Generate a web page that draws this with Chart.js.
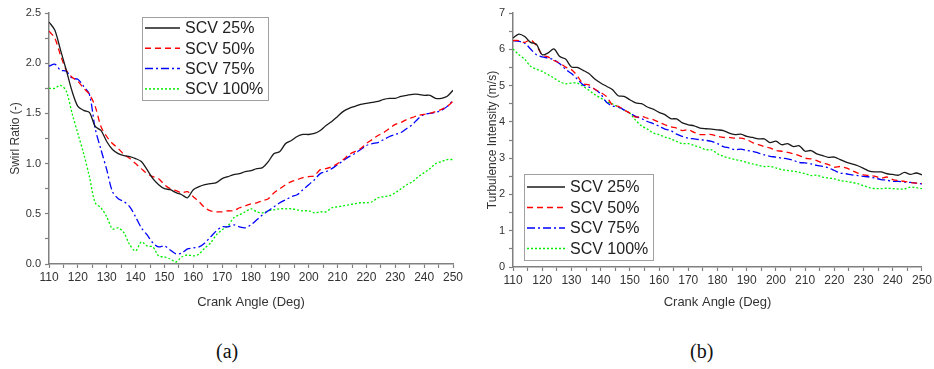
<!DOCTYPE html>
<html>
<head>
<meta charset="utf-8">
<script src="https://cdn.jsdelivr.net/npm/chart.js@4/dist/chart.umd.min.js"></script>
<style>
  body { margin: 0; background: #fff; }
  #wrap { position: relative; width: 934px; height: 369px; }
  #swirl { position: absolute; left: 0; top: 0; }
  #turb { position: absolute; left: 467px; top: 0; }
  .cap { position: absolute; top: 340px; font-family: "Liberation Serif", "Times New Roman", serif; font-size: 20px; color: #111; }
</style>
</head>
<body>
<div id="wrap">
  <canvas id="swirl" width="467" height="320"></canvas>
  <canvas id="turb" width="467" height="320"></canvas>
  <div class="cap" style="left:216px;">(a)</div>
  <div class="cap" style="left:690px;">(b)</div>
</div>
<script>
// crank angle (deg), one sample every 2 degrees
const crankAngles = [110, 112, 114, 116, 118, 120, 122, 124, 126, 128,
  130, 132, 134, 136, 138, 140, 142, 144, 146, 148,
  150, 152, 154, 156, 158, 160, 162, 164, 166, 168,
  170, 172, 174, 176, 178, 180, 182, 184, 186, 188,
  190, 192, 194, 196, 198, 200, 202, 204, 206, 208,
  210, 212, 214, 216, 218, 220, 222, 224, 226, 228,
  230, 232, 234, 236, 238, 240, 242, 244, 246, 248, 250];

const seriesNames = ['SCV 25%', 'SCV 50%', 'SCV 75%', 'SCV 100%'];

// (a) swirl ratio
const swirl25 = [2.41, 2.33, 2.13, 1.93, 1.72, 1.57, 1.53, 1.51, 1.37, 1.33,
  1.22, 1.14, 1.10, 1.08, 1.07, 1.05, 1.02, 0.94, 0.85, 0.79,
  0.75, 0.74, 0.71, 0.69, 0.66, 0.74, 0.77, 0.79, 0.80, 0.81,
  0.85, 0.87, 0.89, 0.90, 0.92, 0.93, 0.95, 0.96, 1.02, 1.10,
  1.12, 1.20, 1.23, 1.27, 1.29, 1.29, 1.30, 1.33, 1.38, 1.42,
  1.47, 1.52, 1.55, 1.57, 1.59, 1.60, 1.61, 1.62, 1.64, 1.65,
  1.65, 1.67, 1.68, 1.69, 1.69, 1.68, 1.68, 1.65, 1.65, 1.67, 1.73];
const swirl50 = [2.32, 2.25, 2.08, 1.93, 1.86, 1.82, 1.75, 1.69, 1.57, 1.37,
  1.27, 1.20, 1.15, 1.09, 1.05, 1.00, 0.95, 0.90, 0.87, 0.85,
  0.79, 0.75, 0.73, 0.71, 0.72, 0.67, 0.62, 0.56, 0.53, 0.52,
  0.52, 0.53, 0.53, 0.56, 0.58, 0.60, 0.61, 0.63, 0.65, 0.71,
  0.75, 0.79, 0.82, 0.84, 0.86, 0.87, 0.88, 0.94, 0.95, 0.97,
  1.00, 1.04, 1.09, 1.12, 1.15, 1.20, 1.24, 1.28, 1.31, 1.35,
  1.39, 1.41, 1.44, 1.46, 1.48, 1.49, 1.50, 1.52, 1.54, 1.57, 1.62];
const swirl75 = [1.97, 1.99, 1.93, 1.92, 1.85, 1.84, 1.77, 1.69, 1.35, 1.14,
  0.94, 0.72, 0.65, 0.62, 0.57, 0.47, 0.36, 0.29, 0.21, 0.17,
  0.18, 0.14, 0.10, 0.11, 0.15, 0.16, 0.17, 0.21, 0.27, 0.33,
  0.37, 0.37, 0.39, 0.37, 0.36, 0.39, 0.44, 0.49, 0.53, 0.57,
  0.61, 0.64, 0.67, 0.69, 0.74, 0.79, 0.84, 0.90, 0.92, 0.95,
  0.99, 1.03, 1.07, 1.10, 1.14, 1.18, 1.20, 1.21, 1.24, 1.27,
  1.29, 1.31, 1.35, 1.39, 1.45, 1.49, 1.50, 1.51, 1.53, 1.57, 1.63];
const swirl100 = [1.75, 1.75, 1.78, 1.72, 1.50, 1.30, 1.10, 0.87, 0.61, 0.56,
  0.47, 0.35, 0.36, 0.31, 0.19, 0.13, 0.22, 0.18, 0.17, 0.08,
  0.07, 0.05, 0.02, 0.07, 0.09, 0.08, 0.10, 0.16, 0.21, 0.29,
  0.34, 0.38, 0.46, 0.49, 0.52, 0.55, 0.52, 0.51, 0.53, 0.54,
  0.55, 0.55, 0.55, 0.54, 0.53, 0.53, 0.51, 0.52, 0.52, 0.56,
  0.57, 0.58, 0.59, 0.60, 0.61, 0.61, 0.62, 0.66, 0.67, 0.68,
  0.71, 0.75, 0.79, 0.82, 0.87, 0.91, 0.95, 1.00, 1.02, 1.04, 1.04];

// (b) turbulence intensity, m/s
const turb25 = [6.31, 6.42, 6.35, 6.19, 6.14, 5.85, 5.90, 6.01, 5.80, 5.73,
  5.51, 5.50, 5.42, 5.33, 5.18, 5.07, 4.98, 4.89, 4.72, 4.70,
  4.61, 4.52, 4.50, 4.41, 4.35, 4.26, 4.20, 4.09, 4.08, 3.97,
  3.92, 3.89, 3.83, 3.81, 3.80, 3.78, 3.76, 3.69, 3.65, 3.66,
  3.60, 3.57, 3.53, 3.53, 3.43, 3.47, 3.37, 3.40, 3.32, 3.34,
  3.19, 3.21, 3.12, 3.07, 3.02, 3.03, 2.96, 2.89, 2.84, 2.79,
  2.72, 2.64, 2.62, 2.62, 2.57, 2.55, 2.53, 2.61, 2.55, 2.59, 2.54];
const turb50 = [6.24, 6.24, 6.19, 6.26, 6.10, 5.85, 5.79, 5.69, 5.62, 5.51,
  5.44, 5.27, 5.05, 5.02, 4.90, 4.81, 4.70, 4.47, 4.43, 4.33,
  4.24, 4.13, 4.15, 4.10, 4.06, 3.99, 3.92, 3.86, 3.83, 3.76,
  3.78, 3.71, 3.65, 3.65, 3.65, 3.60, 3.57, 3.57, 3.55, 3.55,
  3.51, 3.43, 3.37, 3.32, 3.28, 3.21, 3.19, 3.16, 3.12, 3.07,
  3.00, 2.98, 2.93, 2.87, 2.82, 2.75, 2.77, 2.73, 2.66, 2.59,
  2.54, 2.52, 2.50, 2.45, 2.48, 2.41, 2.38, 2.36, 2.33, 2.31, 2.30];
const turb75 = [6.24, 6.22, 6.17, 6.01, 5.85, 5.79, 5.76, 5.71, 5.60, 5.45,
  5.33, 5.18, 5.02, 4.96, 4.90, 4.77, 4.54, 4.44, 4.41, 4.33,
  4.24, 4.15, 4.09, 4.01, 3.95, 3.88, 3.80, 3.76, 3.66, 3.60,
  3.55, 3.53, 3.51, 3.49, 3.46, 3.40, 3.32, 3.28, 3.23, 3.25,
  3.21, 3.19, 3.14, 3.09, 3.05, 3.03, 3.00, 2.98, 2.94, 2.88,
  2.87, 2.84, 2.80, 2.77, 2.73, 2.66, 2.59, 2.57, 2.54, 2.52,
  2.50, 2.48, 2.45, 2.41, 2.39, 2.36, 2.36, 2.34, 2.33, 2.31, 2.29];
const turb100 = [6.01, 5.85, 5.73, 5.53, 5.45, 5.39, 5.30, 5.21, 5.11, 5.05,
  5.07, 5.07, 4.98, 4.87, 4.75, 4.66, 4.56, 4.50, 4.41, 4.32,
  4.24, 4.04, 3.89, 3.80, 3.69, 3.65, 3.58, 3.53, 3.46, 3.40,
  3.40, 3.35, 3.30, 3.23, 3.23, 3.12, 3.05, 3.00, 2.96, 2.93,
  2.88, 2.84, 2.80, 2.77, 2.77, 2.73, 2.68, 2.66, 2.64, 2.61,
  2.57, 2.52, 2.53, 2.48, 2.45, 2.43, 2.38, 2.36, 2.33, 2.30,
  2.24, 2.19, 2.16, 2.16, 2.17, 2.16, 2.15, 2.15, 2.20, 2.19, 2.16];

const FONT = 'Arial, "Liberation Sans", sans-serif';
const lineStyles = [
  { color: '#1a1a1a', dash: [] },
  { color: '#ff0000', dash: [6, 4] },
  { color: '#0000ff', dash: [8, 3, 2, 3] },
  { color: '#00ee00', dash: [2, 2] }
];

function makeDatasets(seriesList) {
  return seriesList.map((vals, i) => ({
    label: seriesNames[i],
    data: crankAngles.map((a, k) => ({ x: a, y: vals[k] })),
    borderColor: lineStyles[i].color,
    borderDash: lineStyles[i].dash,
    borderWidth: 1.3,
    pointRadius: 0,
    tension: 0.3,
    fill: false
  }));
}

// legend drawn inside the plot, as in the paper figure
const boxLegend = {
  id: 'boxLegend',
  afterDatasetsDraw(chart, args, opts) {
    const ctx = chart.ctx;
    ctx.save();
    ctx.fillStyle = '#fff';
    ctx.fillRect(opts.x, opts.y, opts.w, opts.h);
    ctx.strokeStyle = '#a0a0a0';
    ctx.lineWidth = 1;
    ctx.strokeRect(opts.x + 0.5, opts.y + 0.5, opts.w, opts.h);
    chart.data.datasets.forEach((ds, i) => {
      const y = opts.y + opts.first + i * opts.row;
      ctx.strokeStyle = ds.borderColor;
      ctx.lineWidth = 1.5;
      ctx.setLineDash(ds.borderDash);
      ctx.beginPath();
      ctx.moveTo(opts.x + 3, y);
      ctx.lineTo(opts.x + opts.sample, y);
      ctx.stroke();
      ctx.setLineDash([]);
      ctx.fillStyle = '#222';
      ctx.font = '16px ' + FONT;
      ctx.textBaseline = 'middle';
      ctx.fillText(ds.label, opts.x + opts.sample + 5, y + 1);
    });
    ctx.restore();
  }
};

function axisOpts(min, max, step, isMajor, fmt, title, fitSize, titlePad, horizontal) {
  return {
    type: 'linear',
    min: min,
    max: max,
    border: { display: true, color: '#808080', width: 1.5 },
    grid: { drawOnChartArea: false, drawTicks: true, tickLength: 4, tickColor: '#808080', tickWidth: 1.2 },
    ticks: {
      stepSize: step,
      autoSkip: false,
      maxRotation: 0,
      padding: horizontal ? 2 : 4,
      color: '#333',
      font: { family: FONT, size: horizontal ? 12 : 11 },
      callback: (v) => isMajor(v) ? fmt(v) : ''
    },
    title: {
      display: true,
      text: title,
      color: '#333',
      font: { family: FONT, size: horizontal ? 13 : 12 },
      padding: horizontal ? { top: 0, bottom: titlePad } : { top: titlePad, bottom: 0 }
    },
    afterFit: (scale) => {
      if (horizontal) scale.height = fitSize; else scale.width = fitSize;
    }
  };
}

const near = (v, m) => Math.abs(v / m - Math.round(v / m)) < 1e-6;

new Chart(document.getElementById('swirl'), {
  type: 'line',
  data: { datasets: makeDatasets([swirl25, swirl50, swirl75, swirl100]) },
  plugins: [boxLegend],
  options: {
    responsive: false,
    animation: false,
    layout: { autoPadding: false, padding: { left: 0, right: 14, top: 13, bottom: 0 } },
    plugins: {
      legend: { display: false },
      tooltip: { enabled: false },
      boxLegend: { x: 142, y: 17, w: 126, h: 83, first: 11, row: 20.3, sample: 38 }
    },
    scales: {
      x: axisOpts(110, 250, 5, v => near(v, 10), v => String(v), 'Crank Angle (Deg)', 56, 10, true),
      y: axisOpts(0, 2.5, 0.25, v => near(v, 0.5), v => v.toFixed(1), 'Swirl Ratio (-)', 49, 8, false)
    }
  }
});

new Chart(document.getElementById('turb'), {
  type: 'line',
  data: { datasets: makeDatasets([turb25, turb50, turb75, turb100]) },
  plugins: [boxLegend],
  options: {
    responsive: false,
    animation: false,
    layout: { autoPadding: false, padding: { left: 0, right: 9, top: 13, bottom: 0 } },
    plugins: {
      legend: { display: false },
      tooltip: { enabled: false },
      boxLegend: { x: 57, y: 174, w: 129, h: 86, first: 13, row: 20.5, sample: 41 }
    },
    scales: {
      x: axisOpts(110, 250, 5, v => near(v, 10), v => String(v), 'Crank Angle (Deg)', 53, 10, true),
      y: axisOpts(0, 7, 0.5, v => near(v, 1), v => String(v), 'Turbulence Intensity (m/s)', 46, 18, false)
    }
  }
});
</script>
</body>
</html>
